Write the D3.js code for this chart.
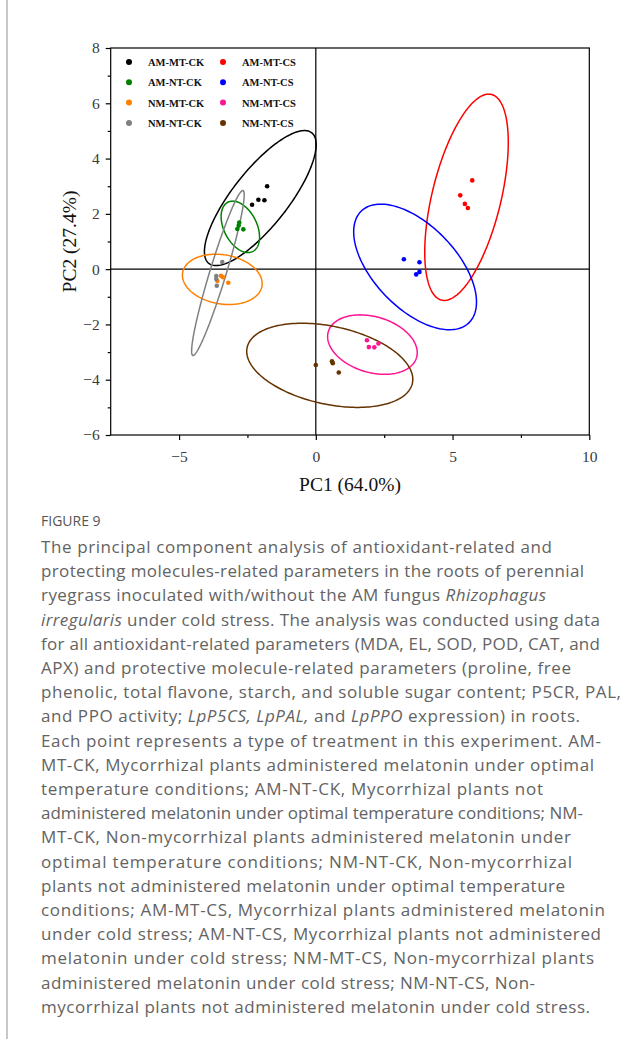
<!DOCTYPE html>
<html>
<head>
<meta charset="utf-8">
<script src="https://cdn.jsdelivr.net/npm/d3@7"></script>
<style>
  html, body { margin: 0; padding: 0; background: #fff; }
  svg { display: block; }
</style>
</head>
<body>
<div id="chart"></div>
<script>
// groups, in legend order (column 1 = CK, column 2 = CS)
const groups = ["AM-MT-CK", "AM-NT-CK", "NM-MT-CK", "NM-NT-CK", "AM-MT-CS", "AM-NT-CS", "NM-MT-CS", "NM-NT-CS"];
const groupColors = ["#000000", "#008000", "#ff8000", "#808080", "#ff0000", "#0000ff", "#ff1493", "#663300"];

// PC scores (4 replicates per group)
const pc1 = [
  [-1.78, -2.10, -1.88, -2.33],
  [-2.80, -2.82, -2.87, -2.65],
  [-3.47, -3.40, -3.60, -3.20],
  [-3.42, -3.64, -3.64, -3.62],
  [5.72, 5.28, 5.45, 5.56],
  [3.22, 3.79, 3.79, 3.67],
  [1.87, 1.94, 2.14, 2.29],
  [0.00, 0.59, 0.62, 0.84]
];
const pc2 = [
  [3.00, 2.51, 2.49, 2.33],
  [1.69, 1.58, 1.45, 1.44],
  [-0.24, -0.29, -0.43, -0.49],
  [0.26, -0.25, -0.36, -0.60],
  [3.21, 2.67, 2.36, 2.21],
  [0.36, 0.25, -0.10, -0.19],
  [-2.57, -2.82, -2.83, -2.69],
  [-3.47, -3.33, -3.40, -3.74]
];

// confidence ellipses: centre, semi-axes (PC units), tilt in degrees
const ellCx = [-2.03, -2.76, -3.42, -3.58, 5.51, 3.63, 2.07, 0.51];
const ellCy = [2.57, 1.53, -0.37, -0.14, 2.60, 0.08, -2.73, -3.48];
const ellA = [3.02, 1.00, 1.47, 3.12, 3.83, 2.82, 1.68, 3.09];
const ellB = [1.01, 0.60, 0.89, 0.30, 1.26, 1.50, 1.01, 1.41];
const ellAngle = [51.4, 117.2, -9.4, 72.9, 76.2, -45.6, -16, -12];

const xTicks = [-5, 0, 5, 10];
const xMinor = [-2.5, 2.5, 7.5];
const yTicks = [-6, -4, -2, 0, 2, 4, 6, 8];
const yMinor = [-5, -3, -1, 1, 3, 5, 7];

const xTitle = "PC1 (64.0%)";
const yTitle = "PC2 (27.4%)";

const figLabel = "FIGURE 9";
// *...* marks italic
const captionLines = [
  "The principal component analysis of antioxidant-related and",
  "protecting molecules-related parameters in the roots of perennial",
  "ryegrass inoculated with/without the AM fungus *Rhizophagus*",
  "*irregularis* under cold stress. The analysis was conducted using data",
  "for all antioxidant-related parameters (MDA, EL, SOD, POD, CAT, and",
  "APX) and protective molecule-related parameters (proline, free",
  "phenolic, total flavone, starch, and soluble sugar content; P5CR, PAL,",
  "and PPO activity; *LpP5CS, LpPAL,* and *LpPPO* expression) in roots.",
  "Each point represents a type of treatment in this experiment. AM-",
  "MT-CK, Mycorrhizal plants administered melatonin under optimal",
  "temperature conditions; AM-NT-CK, Mycorrhizal plants not",
  "administered melatonin under optimal temperature conditions; NM-",
  "MT-CK, Non-mycorrhizal plants administered melatonin under",
  "optimal temperature conditions; NM-NT-CK, Non-mycorrhizal",
  "plants not administered melatonin under optimal temperature",
  "conditions; AM-MT-CS, Mycorrhizal plants administered melatonin",
  "under cold stress; AM-NT-CS, Mycorrhizal plants not administered",
  "melatonin under cold stress; NM-MT-CS, Non-mycorrhizal plants",
  "administered melatonin under cold stress; NM-NT-CS, Non-",
  "mycorrhizal plants not administered melatonin under cold stress."
];
// right end of each caption line in the reference layout (px)
const captionEnds = [552, 584, 546, 600, 600, 571, 621, 580, 601, 594,
                     543, 583, 571, 572, 565, 605, 601, 594, 535, 590];

const W = 642, H = 1039;
const plot = { left: 110.7, right: 589.3, top: 48, bottom: 435 };
const serif = "'Liberation Serif', 'Times New Roman', serif";

const svg = d3.select("#chart").append("svg")
  .attr("width", W)
  .attr("height", H);

// grey rule at the left of the figure block
svg.append("line")
  .attr("x1", 7).attr("x2", 7)
  .attr("y1", 0).attr("y2", H)
  .attr("stroke", "#c8c8c8")
  .attr("stroke-width", 2);

const x = d3.scaleLinear().domain([-7.5, 10]).range([plot.left, plot.right]);
const y = d3.scaleLinear().domain([-6, 8]).range([plot.bottom, plot.top]);

const fmt = d => (d < 0 ? "\u2212" + Math.abs(d) : String(d));

// minor ticks first, then major axis with labels
svg.append("g")
  .attr("transform", `translate(0,${plot.bottom})`)
  .call(d3.axisBottom(x).tickValues(xMinor).tickSize(3).tickFormat(""))
  .call(g => g.select(".domain").remove());
svg.append("g")
  .attr("transform", `translate(${plot.left},0)`)
  .call(d3.axisLeft(y).tickValues(yMinor).tickSize(3).tickFormat(""))
  .call(g => g.select(".domain").remove());

const xAxis = svg.append("g")
  .attr("transform", `translate(0,${plot.bottom})`)
  .call(d3.axisBottom(x).tickValues(xTicks).tickSize(5).tickPadding(11).tickFormat(fmt))
  .call(g => g.select(".domain").remove());
const yAxis = svg.append("g")
  .attr("transform", `translate(${plot.left},0)`)
  .call(d3.axisLeft(y).tickValues(yTicks).tickSize(5).tickPadding(6).tickFormat(fmt))
  .call(g => g.select(".domain").remove());

[xAxis, yAxis].forEach(g => {
  g.selectAll("text")
    .attr("font-family", serif)
    .attr("font-size", 15.5)
    .attr("fill", "#3a3a3a");
});
svg.selectAll(".tick line").attr("stroke", "#000").attr("stroke-width", 1.2);

// frame
svg.append("rect")
  .attr("x", x(-7.5)).attr("y", y(8))
  .attr("width", x(10) - x(-7.5))
  .attr("height", y(-6) - y(8))
  .attr("fill", "none")
  .attr("stroke", "#000")
  .attr("stroke-width", 1.2);

// zero lines
svg.append("line")
  .attr("x1", x(-7.5)).attr("x2", x(10))
  .attr("y1", y(0)).attr("y2", y(0))
  .attr("stroke", "#000").attr("stroke-width", 1.2);
svg.append("line")
  .attr("x1", x(0)).attr("x2", x(0))
  .attr("y1", y(-6)).attr("y2", y(8))
  .attr("stroke", "#000").attr("stroke-width", 1.2);

// ellipses
const ellLine = d3.line().x(d => x(d[0])).y(d => y(d[1])).curve(d3.curveLinearClosed);
const ellipsePts = i => {
  const th = ellAngle[i] * Math.PI / 180;
  return d3.range(0, 360, 2).map(t => {
    const r = t * Math.PI / 180;
    const u = ellA[i] * Math.cos(r), v = ellB[i] * Math.sin(r);
    return [ellCx[i] + u * Math.cos(th) - v * Math.sin(th),
            ellCy[i] + u * Math.sin(th) + v * Math.cos(th)];
  });
};
svg.append("g")
  .selectAll("path")
  .data(groups)
  .join("path")
  .attr("d", (d, i) => ellLine(ellipsePts(i)))
  .attr("fill", "none")
  .attr("stroke", (d, i) => groupColors[i])
  .attr("stroke-width", 1.5);

// points
const pts = [];
groups.forEach((g, i) => pc1[i].forEach((v, j) => pts.push({ g: i, x: v, y: pc2[i][j] })));
svg.append("g")
  .selectAll("circle")
  .data(pts)
  .join("circle")
  .attr("cx", d => x(d.x))
  .attr("cy", d => y(d.y))
  .attr("r", 2.3)
  .attr("fill", d => groupColors[d.g]);

// legend
const legend = svg.append("g");
groups.forEach((g, i) => {
  const col = Math.floor(i / 4), row = i % 4;
  const lx = 129 + col * 94, ly = 62 + row * 20.3;
  legend.append("circle")
    .attr("cx", lx).attr("cy", ly).attr("r", 3)
    .attr("fill", groupColors[i]);
  legend.append("text")
    .attr("x", lx + 19).attr("y", ly + 4)
    .attr("font-family", serif)
    .attr("font-weight", "bold")
    .attr("font-size", 10.5)
    .attr("fill", "#111")
    .text(g);
});

// axis titles
svg.append("text")
  .attr("x", x(1.25)).attr("y", 491)
  .attr("text-anchor", "middle")
  .attr("font-family", serif)
  .attr("font-size", 19.5)
  .attr("fill", "#111")
  .text(xTitle);
svg.append("text")
  .attr("transform", `translate(76,${y(1)}) rotate(-90)`)
  .attr("text-anchor", "middle")
  .attr("font-family", serif)
  .attr("font-size", 19.5)
  .attr("fill", "#111")
  .text(yTitle);

// caption
const capFont = "'Open Sans', Lato, sans-serif";
const capX = 41;
svg.append("text")
  .attr("x", capX).attr("y", 526)
  .attr("font-family", capFont)
  .attr("font-size", 14)
  .attr("fill", "#555")
  .text(figLabel);

captionLines.forEach((line, i) => {
  const t = svg.append("text")
    .attr("x", capX)
    .attr("y", 553 + i * 24.2)
    .attr("font-family", capFont)
    .attr("font-size", 17)
    .attr("fill", "#636363")
    .attr("textLength", captionEnds[i] - capX)
    .attr("lengthAdjust", "spacing");
  line.split("*").forEach((p, k) => {
    if (!p) return;
    const ts = t.append("tspan").text(p);
    if (k % 2 === 1) ts.attr("font-style", "italic");
  });
});
</script>
</body>
</html>
